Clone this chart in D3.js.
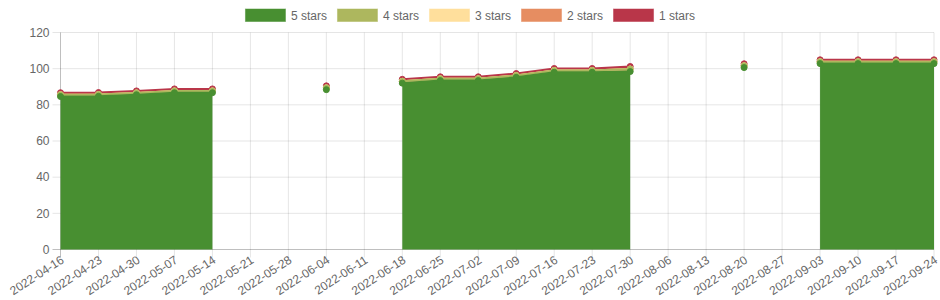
<!DOCTYPE html>
<html>
<head>
<meta charset="utf-8">
<script src="https://cdn.jsdelivr.net/npm/d3@7"></script>
<style>
  body { margin: 0; background: #fff; }
  svg { display: block; font-family: "Liberation Sans", Arial, Helvetica, sans-serif; }
</style>
</head>
<body>
<div id="chart"></div>
<script>
'use strict';

// week labels
const dates = ['2022-04-16', '2022-04-23', '2022-04-30', '2022-05-07', '2022-05-14', '2022-05-21',
    '2022-05-28', '2022-06-04', '2022-06-11', '2022-06-18', '2022-06-25', '2022-07-02',
    '2022-07-09', '2022-07-16', '2022-07-23', '2022-07-30', '2022-08-06', '2022-08-13',
    '2022-08-20', '2022-08-27', '2022-09-03', '2022-09-10', '2022-09-17', '2022-09-24'];

// series values (null = no data that week)
const five_stars = [84.6, 84.7, 85.6, 86.7, 86.7, null, null, 88.4, null, 92.0, 93.4, 93.4,
    95.2, 98.0, 98.0, 98.4, null, null, 100.6, null, 102.8, 102.8, 102.8, 102.8];
const four_stars = [1.0, 1.0, 1.0, 1.0, 1.0, null, null, 1.0, null, 1.0, 1.0, 1.0,
    1.0, 1.0, 1.0, 1.4, null, null, 1.0, null, 1.0, 1.0, 1.0, 1.0];
const three_stars = [0, 0, 0, 0, 0, null, null, 0, null, 0, 0, 0,
    0, 0, 0, 0, null, null, 0, null, 0, 0, 0, 0];
const two_stars = [0, 0, 0, 0, 0, null, null, 0, null, 0, 0, 0,
    0, 0, 0, 0, null, null, 0, null, 0, 0, 0, 0];
const one_stars = [1.1, 1.1, 1.1, 1.1, 1.1, null, null, 1.1, null, 1.1, 1.1, 1.1,
    1.1, 1.1, 1.1, 1.4, null, null, 1.1, null, 1.1, 1.1, 1.1, 1.1];

const y_ticks = [0, 20, 40, 60, 80, 100, 120];

const series_names = ['5 stars', '4 stars', '3 stars', '2 stars', '1 stars'];
const series_colors = ['#488f31', '#adb75e', '#ffdf9c', '#e68d61', '#b93649'];

const width = 940, height = 300;
const margin = { top: 32.5, right: 6, bottom: 50.5, left: 60.5 };
const text_color = '#666';

// build rows for d3.stack
const all_values = [five_stars, four_stars, three_stars, two_stars, one_stars];
const rows = dates.map((d, i) => {
    const row = { date: d };
    series_names.forEach((name, k) => row[name] = all_values[k][i]);
    return row;
});

const svg = d3.select('#chart').append('svg')
    .attr('width', width)
    .attr('height', height);

const x = d3.scalePoint()
    .domain(dates)
    .range([margin.left, width - margin.right]);

const y = d3.scaleLinear()
    .domain([0, 120])
    .range([height - margin.bottom, margin.top]);

const stacked = d3.stack()
    .keys(series_names)
    .value((d, key) => d[key] == null ? 0 : d[key])(rows);

// grid
const grid_g = svg.append('g');
grid_g.selectAll('line.gy')
    .data(y_ticks)
    .enter()
    .append('line')
    .attr('x1', margin.left - 8)
    .attr('x2', width - margin.right)
    .attr('y1', d => y(d))
    .attr('y2', d => y(d))
    .attr('stroke', d => d === 0 ? 'rgba(0,0,0,0.25)' : 'rgba(0,0,0,0.1)')
    .attr('stroke-width', 1);

grid_g.selectAll('line.gx')
    .data(dates)
    .enter()
    .append('line')
    .attr('x1', d => x(d))
    .attr('x2', d => x(d))
    .attr('y1', margin.top)
    .attr('y2', height - margin.bottom + 8)
    .attr('stroke', (d, i) => i === 0 ? 'rgba(0,0,0,0.25)' : 'rgba(0,0,0,0.1)')
    .attr('stroke-width', 1);

// y tick labels
svg.append('g').selectAll('text')
    .data(y_ticks)
    .enter()
    .append('text')
    .attr('x', margin.left - 11)
    .attr('y', d => y(d))
    .attr('dy', '0.35em')
    .attr('text-anchor', 'end')
    .attr('font-size', 12)
    .attr('fill', text_color)
    .text(d => d);

// x tick labels
svg.append('g').selectAll('text')
    .data(dates)
    .enter()
    .append('text')
    .attr('transform', d => `translate(${x(d) + 2},${height - margin.bottom + 9}) rotate(-33)`)
    .attr('dy', '0.35em')
    .attr('text-anchor', 'end')
    .attr('font-size', 12)
    .attr('fill', text_color)
    .text(d => d);

// fills
const area = d3.area()
    .defined(d => d.data['5 stars'] != null)
    .x(d => x(d.data.date))
    .y0(d => y(d[0]))
    .y1(d => y(d[1]));

const line = d3.line()
    .defined(d => d.data['5 stars'] != null)
    .x(d => x(d.data.date))
    .y(d => y(d[1]));

const plot_g = svg.append('g');
for (let k = stacked.length - 1; k >= 0; k--) {
    plot_g.append('path')
        .datum(stacked[k])
        .attr('d', area)
        .attr('fill', series_colors[k])
        .attr('stroke', 'none');
}

// lines and points, last dataset first so 5 stars ends on top
for (let k = stacked.length - 1; k >= 0; k--) {
    plot_g.append('path')
        .datum(stacked[k])
        .attr('d', line)
        .attr('fill', 'none')
        .attr('stroke', series_colors[k])
        .attr('stroke-width', 2);

    plot_g.append('g').selectAll('circle')
        .data(stacked[k].filter(d => d.data['5 stars'] != null))
        .enter()
        .append('circle')
        .attr('cx', d => x(d.data.date))
        .attr('cy', d => y(d[1]))
        .attr('r', 3)
        .attr('fill', series_colors[k])
        .attr('stroke', series_colors[k])
        .attr('stroke-width', 1);
}

// legend
const legend_g = svg.append('g');
const items = legend_g.selectAll('g')
    .data(series_names)
    .enter()
    .append('g');

items.append('rect')
    .attr('x', 0.5)
    .attr('y', 9)
    .attr('width', 40)
    .attr('height', 12.5)
    .attr('fill', (d, i) => series_colors[i])
    .attr('stroke', (d, i) => series_colors[i])
    .attr('stroke-opacity', 0.5)
    .attr('stroke-width', 1);

items.append('text')
    .attr('x', 46)
    .attr('y', 15.5)
    .attr('dy', '0.35em')
    .attr('font-size', 12)
    .attr('fill', text_color)
    .text(d => d);

// position legend items centered
const widths = [];
items.each(function() {
    widths.push(46 + this.querySelector('text').getComputedTextLength());
});
const gap = 10;
const total = d3.sum(widths) + gap * (widths.length - 1);
let cursor = width / 2 - total / 2;
items.attr('transform', (d, i) => {
    const tx = cursor;
    cursor += widths[i] + gap;
    return `translate(${tx},0)`;
});
</script>
</body>
</html>
